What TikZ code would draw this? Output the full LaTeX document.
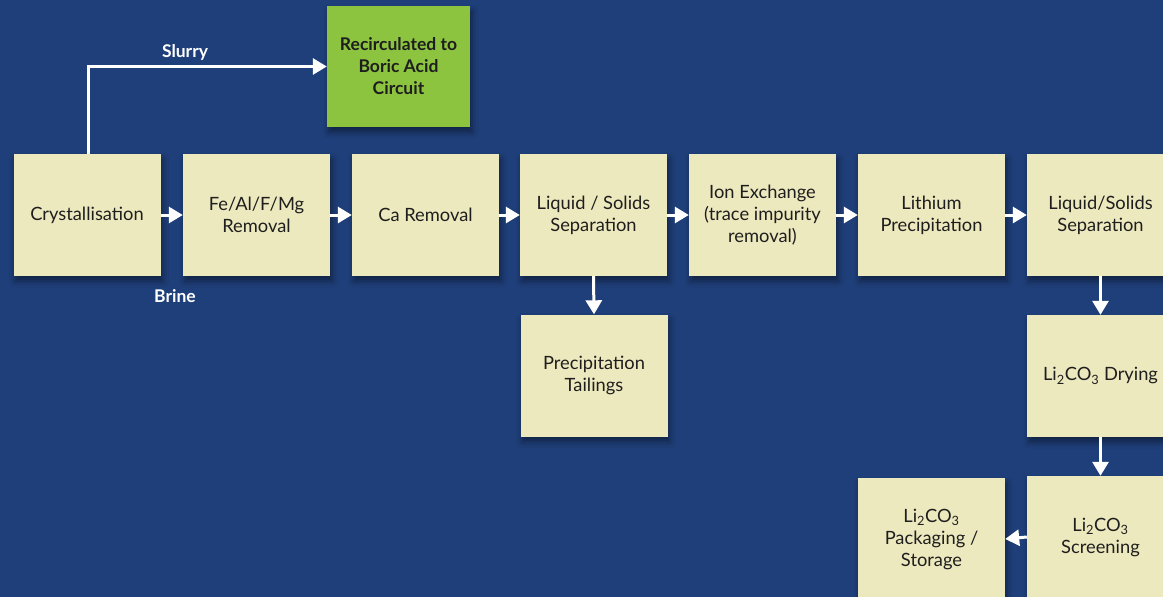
\documentclass[tikz,border=0pt]{standalone}
\usepackage{fontspec}
\setmainfont{Lato}
\usetikzlibrary{arrows.meta,shadows.blur}
\definecolor{bgc}{RGB}{31,63,122}
\definecolor{boxc}{RGB}{237,233,190}
\definecolor{grn}{RGB}{140,196,63}
\definecolor{txt}{RGB}{30,30,30}
\begin{document}
\begin{tikzpicture}[x=1pt,y=-1pt,
  box/.style={fill=boxc, minimum width=147pt, minimum height=122pt, inner sep=0pt,
    align=center, font=\fontsize{18.3}{22}\selectfont, text=txt,
    blur shadow={shadow xshift=2pt, shadow yshift=-5pt, shadow blur radius=6pt, shadow opacity=45}},
  arr/.style={draw=white, line width=3pt, -{Triangle[width=16pt,length=14pt]}},
  lbl/.style={text=white, font=\fontsize{17.5}{20}\selectfont\bfseries, inner sep=0pt}]
\useasboundingbox (0,0) rectangle (1163,597);
\fill[bgc] (0,0) rectangle (1163,597);
\clip (0,0) rectangle (1163,597);
\node[box] (cry) at (87,215) {Crystallisation};
\node[box] (fe) at (256.5,215) {Fe/Al/F/Mg\\Removal};
\node[box] (ca) at (425.5,215) {Ca Removal};
\node[box] (ls1) at (593.5,215) {Liquid / Solids\\Separation};
\node[box] (ion) at (762.5,215) {Ion Exchange\\(trace impurity\\removal)};
\node[box] (lip) at (931.5,215) {Lithium\\Precipitation};
\node[box] (ls2) at (1100.5,215) {Liquid/Solids\\Separation};
\node[box] (tail) at (594,375.5) {Precipitation\\Tailings};
\node[box] (dry) at (1100.5,376) {Li\textsubscript{2}CO\textsubscript{3} Drying};
\node[box] (scr) at (1100.5,537) {Li\textsubscript{2}CO\textsubscript{3}\\Screening};
\node[box] (pack) at (931.5,539) {Li\textsubscript{2}CO\textsubscript{3}\\Packaging /\\Storage};
\node[box, fill=grn, minimum width=143pt, minimum height=121pt, font=\fontsize{17.5}{22}\selectfont\bfseries] (boric) at (398.5,66.5) {Recirculated to\\Boric Acid\\Circuit};
\draw[arr] ([xshift=1pt]cry.north) |- (boric.west);
\node[lbl] (slurry) at (185,52) {Slurry};
\node[lbl] (brine) at (175,296) {Brine};
\draw[arr] (cry.east) -- (fe.west);
\draw[arr] (fe.east) -- (ca.west);
\draw[arr] (ca.east) -- (ls1.west);
\draw[arr] (ls1.east) -- (ion.west);
\draw[arr] (ion.east) -- (lip.west);
\draw[arr] (lip.east) -- (ls2.west);
\draw[arr] (ls1.south) -- (tail.north);
\draw[arr] (ls2.south) -- (dry.north);
\draw[arr] (dry.south) -- (scr.north);
\draw[arr] (scr.west) -- (pack.east);
\end{tikzpicture}
\end{document}
